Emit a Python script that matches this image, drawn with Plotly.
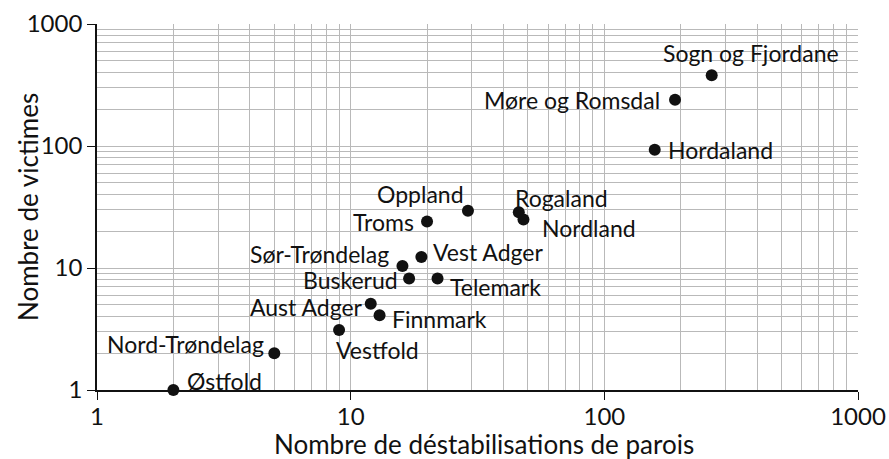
import numpy as np
import plotly.graph_objects as go

# Counties: wall destabilisations (x) vs. number of victims (y)
counties = ["Østfold", "Nord-Trøndelag", "Vestfold", "Aust Adger", "Finnmark",
            "Buskerud", "Sør-Trøndelag", "Vest Adger", "Telemark", "Troms",
            "Oppland", "Rogaland", "Nordland", "Hordaland", "Møre og Romsdal",
            "Sogn og Fjordane"]
destabilisations = [2, 5, 9, 12, 13, 17, 16, 19, 22, 20, 29, 46, 48, 158, 190, 265]
victims = [1, 2, 3.1, 5.1, 4.1, 8.2, 10.4, 12.3, 8.2, 24, 29.4, 28.7, 25, 93, 239, 380]

# Label placement per county: (xanchor, xshift px, yshift px)
label_style = {
    "Østfold": ("left", 13, 9),
    "Nord-Trøndelag": ("right", -9, 9),
    "Vestfold": ("left", -4, -20),
    "Aust Adger": ("right", -7, -3),
    "Finnmark": ("left", 11, -4),
    "Buskerud": ("right", -10, -1),
    "Sør-Trøndelag": ("right", -12, 12),
    "Vest Adger": ("left", 11, 5),
    "Telemark": ("left", 11, -8),
    "Troms": ("right", -12, 0),
    "Oppland": ("right", -3, 17),
    "Rogaland": ("left", -5, 14),
    "Nordland": ("left", 18, -9),
    "Hordaland": ("left", 12, 0),
    "Møre og Romsdal": ("right", -14, 0),
    "Sogn og Fjordane": ("center", 39, 22),
}

x_ticks = [1, 10, 100, 1000]
y_ticks = [1, 10, 100, 1000]
x_title = "Nombre de déstabilisations de parois"
y_title = "Nombre de victimes"

FONT = "Lato"
INK = "#111111"
grid_vals = [m * 10 ** e for e in range(3) for m in range(1, 10) if m * 10 ** e > 1]

fig = go.Figure()
fig.add_trace(go.Scatter(
    x=destabilisations, y=victims, mode="markers",
    marker=dict(size=12, color=INK),
    cliponaxis=False, hoverinfo="text", text=counties,
))

for name, xv, yv in zip(counties, destabilisations, victims):
    anchor, dx, dy = label_style[name]
    fig.add_annotation(
        x=np.log10(xv), y=np.log10(yv), xref="x", yref="y",
        text=name, showarrow=False, xanchor=anchor, yanchor="middle",
        xshift=dx, yshift=dy, borderpad=0,
        font=dict(family=FONT, size=23, color=INK),
    )

# Axis titles
fig.add_annotation(
    x=0.5, y=0, xref="paper", yref="paper", text=x_title, showarrow=False,
    xanchor="center", yanchor="middle", xshift=6, yshift=-54, borderpad=0,
    font=dict(family=FONT, size=26, color=INK),
)
fig.add_annotation(
    x=0, y=0.5, xref="paper", yref="paper", text=y_title, showarrow=False,
    textangle=-90, xanchor="center", yanchor="middle", xshift=-69,
    font=dict(family=FONT, size=26, color=INK),
)

axis_common = dict(
    type="log", showgrid=False, zeroline=False, automargin=False,
    showline=True, linecolor=INK, linewidth=1.6,
    ticks="outside", ticklen=8, tickwidth=1.4, tickcolor=INK,
    tickfont=dict(family=FONT, size=24, color=INK),
    range=[0, 3],
    minor=dict(tickvals=grid_vals, showgrid=True, gridcolor="#b9b9b9",
               gridwidth=1, ticks=""),
)

fig.update_xaxes(**axis_common, tickvals=x_ticks, ticklabelstandoff=-4,
                 ticktext=[str(v) for v in x_ticks])
fig.update_yaxes(**axis_common, tickvals=y_ticks,
                 ticktext=[str(v) for v in y_ticks])

fig.update_layout(
    width=889, height=459,
    margin=dict(l=97, r=31, t=24, b=69),
    paper_bgcolor="white", plot_bgcolor="white",
    showlegend=False,
)

fig.write_html("out.html")
